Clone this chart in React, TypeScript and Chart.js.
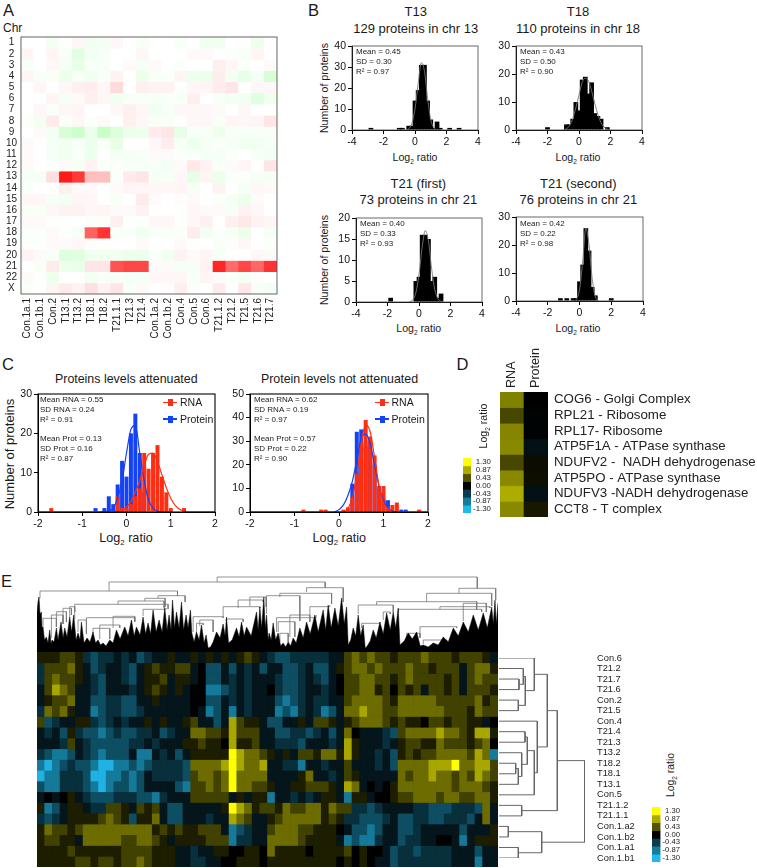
import React, { useEffect, useRef } from "react";
import { Chart, registerables } from "chart.js";

Chart.register(...registerables);
Chart.defaults.font.family = "'Liberation Sans', Arial, sans-serif";

const FONT = "'Liberation Sans', Arial, sans-serif";

/* ---------- Panel A ---------- */
const chrLabels = ["1","2","3","4","5","6","7","8","9","10","11","12","13","14","15","16","17","18","19","20","21","22","X"];
const sampleLabels = ["Con.1a.1","Con.1b.1","Con.2","T13.1","T13.2","T18.1","T18.2","T21.1.1","T21.3","T21.4","Con.1a.2","Con.1b.2","Con.4","Con.5","Con.6","T21.1.2","T21.2","T21.5","T21.6","T21.7"];
const chrRatios = [
  [0,0,-5,-1,3,-6,-5,3,0,-3,0,0,-3,0,-6,-6,0,0,-7,0],
  [4,0,4,-3,-12,-5,-3,0,0,3,0,0,0,2,2,0,-2,-3,4,0],
  [-3,0,3,-4,-10,-3,-3,0,2,-4,2,0,-2,0,0,6,3,-2,0,2],
  [4,-3,-3,-8,-3,-6,-3,5,0,-8,-3,-2,4,-7,-8,7,-5,-10,-4,-16],
  [0,3,0,3,6,7,3,14,0,6,5,5,-1,3,4,7,10,0,3,3],
  [0,0,4,-4,2,6,3,-6,-3,-3,-3,-2,-3,6,0,-3,-5,-6,-12,-6],
  [0,3,-2,3,4,0,0,3,6,3,-6,-4,3,3,3,2,0,3,0,0],
  [-2,-5,8,-2,3,-1,2,0,6,3,-3,-3,0,3,3,-3,4,3,4,10],
  [0,2,-5,-16,-20,-8,-22,-13,-8,-7,8,10,-10,-3,-3,-7,-3,-3,-3,-3],
  [2,0,-4,-6,-4,-7,-3,-10,0,0,3,7,-3,-7,-4,-2,-4,-6,-6,-4],
  [2,0,-4,-6,-2,-7,0,-4,-4,-3,2,2,-2,-2,-4,-4,-2,0,-4,-5],
  [2,0,-2,2,-4,5,-2,-2,-3,-3,-3,-5,2,9,5,-3,2,4,0,10],
  [-4,-4,13,90,78,25,25,-2,8,10,-4,-3,3,-10,4,-8,-2,-2,-4,-4],
  [-2,0,0,6,2,2,-1,2,4,3,3,3,4,-4,0,5,0,-4,3,2],
  [3,3,-4,-5,4,3,0,-3,0,8,2,0,1,2,0,-2,-4,-8,2,0],
  [-3,-3,3,5,5,3,4,2,2,5,0,0,-1,3,2,2,-4,5,3,0],
  [2,2,-1,-1,0,-2,-2,6,-1,-1,3,3,-1,3,6,0,6,9,5,4],
  [-2,-2,2,-1,-4,62,80,-3,-2,-6,-3,-3,-2,7,-5,-2,-4,-8,0,-4],
  [-1,-1,2,2,3,1,-1,0,0,2,0,0,2,-1,0,-3,1,3,0,-2],
  [5,2,-3,-13,-12,-6,-6,-6,-8,-8,-2,-6,5,2,4,-4,0,0,3,2],
  [0,-3,8,-7,-9,10,10,68,72,72,2,2,-4,-4,5,85,58,72,60,80],
  [2,-1,-7,0,0,-5,-3,-3,-4,-4,3,3,3,-3,4,2,-2,-4,1,0],
  [-3,-1,4,8,5,12,5,10,-3,2,0,1,6,-2,0,8,0,9,-3,-5],
];

/* ---------- Panel B ---------- */
const t13Bins = [[-2.8,1],[-1,1],[-0.8,1],[-0.4,2],[-0.2,2],[0,14],[0.2,19],[0.4,31],[0.6,31],[0.8,14],[1,5],[1.2,1],[1.4,4],[1.6,1],[2.2,1],[2.8,1]];
const t13Fit = [[-0.6,0],[-0.4,0.6],[-0.2,3],[0,10],[0.2,22],[0.4,32],[0.6,28],[0.8,15],[1,5],[1.2,1],[1.4,0]];
const t18Bins = [[-2,1],[-0.8,2],[-0.6,2],[-0.4,4],[-0.2,10],[0,7],[0.2,18],[0.4,19],[0.6,13],[0.8,17],[1,6],[1.2,5],[1.4,4],[1.8,1]];
const t18Fit = [[-1,0],[-0.8,0.4],[-0.6,1.6],[-0.4,4],[-0.2,8],[0,12.5],[0.2,17],[0.4,18.5],[0.6,17.5],[0.8,14],[1,9.5],[1.2,5.5],[1.4,2.6],[1.6,1],[1.8,0.3],[2,0]];
const t21aBins = [[-1.8,1],[-0.2,5],[0,6],[0.2,16],[0.4,16],[0.6,15],[0.8,5],[1,6],[1.2,1],[1.4,2]];
const t21aFit = [[-0.6,0],[-0.4,0.5],[-0.2,2.2],[0,6.5],[0.2,13],[0.4,17],[0.6,14.5],[0.8,8],[1,3],[1.2,0.8],[1.4,0.1]];
const t21bBins = [[-1.2,1],[-0.8,1],[-0.4,1],[-0.2,1],[0,7],[0.2,13],[0.4,26],[0.6,18],[0.8,5],[1,2],[2,1]];
const t21bFit = [[-0.2,0.5],[0,4],[0.2,14],[0.4,26],[0.6,20],[0.8,8],[1,1.5],[1.2,0.2]];

/* ---------- Panel C ---------- */
const attRnaBins = [[-1.7,1],[-0.2,4],[-0.1,1],[0,1],[0.1,2],[0.2,4],[0.3,6],[0.4,15],[0.5,11],[0.6,15],[0.7,17],[0.8,9],[0.9,5],[1,1],[1.3,1]];
const attProtBins = [[-0.7,1],[-0.5,1],[-0.4,4],[-0.3,2],[-0.2,7],[-0.1,13],[0,9],[0.1,20],[0.2,25],[0.3,15],[0.4,5]];
const attRnaFit = [[-2,0],[-0.3,0],[-0.2,0.1],[0,1.2],[0.1,2.7],[0.2,5],[0.3,8],[0.4,12],[0.5,14.7],[0.6,15],[0.7,12.8],[0.8,9.5],[0.9,6.2],[1,3.5],[1.1,1.7],[1.2,0.7],[1.3,0.2],[1.4,0],[2,0]];
const attProtFit = [[-0.6,0],[-0.4,0.2],[-0.3,1],[-0.2,3.5],[-0.1,8],[0,15],[0.1,21],[0.2,22],[0.3,15],[0.4,8],[0.5,3],[0.6,1],[0.7,0.2],[0.8,0],[1.05,0]];
const notRnaBins = [[-0.8,1],[-0.4,1],[-0.3,1],[0.1,1],[0.2,2],[0.3,6],[0.4,16],[0.5,30],[0.6,39],[0.7,32],[0.8,24],[0.9,11],[1,11],[1.1,2],[1.2,3],[1.3,4],[1.8,1]];
const notProtBins = [[0.3,12],[0.4,34],[0.5,35],[0.6,28],[0.7,30],[0.8,20],[0.9,10],[1,6],[1.1,5],[1.4,1],[1.5,1]];
const notRnaFit = [[-2,0],[0.1,0],[0.2,1.5],[0.3,6],[0.4,16],[0.5,29],[0.6,37],[0.7,34],[0.8,23],[0.9,11],[1,4],[1.1,1.2],[1.2,0.2],[1.3,0],[2,0]];
const notProtFit = [[-0.1,0],[0,1],[0.1,3],[0.2,7],[0.3,13],[0.4,22],[0.5,31],[0.6,33],[0.7,29],[0.8,20],[0.9,11],[1,5],[1.1,1.6],[1.2,0.4],[1.3,0]];

/* ---------- Panel D ---------- */
const proteinNames = ["COG6 - Golgi Complex","RPL21 - Ribosome","RPL17- Ribosome","ATP5F1A - ATPase synthase","NDUFV2 -  NADH dehydrogenase","ATP5PO - ATPase synthase","NDUFV3 -NADH dehydrogenase","CCT8 - T complex"];
const omicsLabels = ["RNA","Protein"];
const rnaRatios = [0.66,0.36,0.68,0.7,0.36,0.7,0.88,0.7];
const protRatios = [0,-0.02,-0.02,-0.12,0.06,0.07,-0.12,0.12];
const scaleSteps = [1.3,0.87,0.43,0,-0.43,-0.87,-1.3];
const scaleLabels = ["1.30","0.87","0.43","0.00","-0.43","-0.87","-1.30"];

/* ---------- Panel E ---------- */
const clusterLabels = ["Con.6","T21.2","T21.7","T21.6","Con.2","T21.5","Con.4","T21.4","T21.3","T13.2","T18.2","T18.1","T13.1","Con.5","T21.1.2","T21.1.1","Con.1.a2","Con.1.b2","Con.1.a1","Con.1.b1"];
const clusterRows = [
  "111221bcbbabacbaa1aa1a1a1a121" + "abccbbbbbaa2323221" + "222322212221a",
  "b22231acbaabca121122a0ccacaba" + "caaccbacca12332322" + "23221222a2331",
  "b23221abcaabca112a11a0ccababa" + "aabccbabca02233221" + "23222212a2322",
  "a2432aabcaaaba121a1a00ddcbaba" + "a0bccbaaba02233120" + "212a2212a2221",
  "a1223aaccbbccaa1aaaa00ccababa" + "aacdcbabbaa2333321" + "3333322222312",
  "b3231aadcbbccbaaaaaa0adcadaba" + "aadcdbabdca3343322" + "3333332221322",
  "2cbaa11bcbabaa1a1aa12aaca4211" + "accaa1a221a1233321" + "21102212211a0",
  "abac1bccdcbccbbacbaa332214222" + "aaccbbcbaca30aaabc" + "2333343321441",
  "aaab2abcccccbbabaaa1121104112" + "aabbbcaaaba41aaaba" + "1221132221230",
  "bcddcabcdcccaddabaca111115433" + "21a1a22133141aabac" + "121223333243d",
  "dedcbccdeeddcdcbbbbc333345433" + "4aabbdaabaa2aaabac" + "3333444533442",
  "eddbbbceeddcdcabbbbc233235333" + "3aaaa13aaba21aaaaa" + "3233433232432",
  "cddbbbcdedccdcaaaacd223235332" + "21aa112221a43a0a01" + "3333333233321",
  "a0a01abcccbbbccdbaaa22222a1a1" + "1daababa11ad11a001" + "2233323322331",
  "1dca11abb221a212accaaaaa15431" + "221322331322bbcbaa" + "aabbcccbbbc3a",
  "bcba11112321c113accaaabaa432a" + "a1233333121bbcccba" + "ccbbccbbbca3a",
  "132212333333333121211222adcba" + "a2333221110accdcaa" + "ccbaaaaacaaa1",
  "12211a33333223321a1111222dbba" + "a333321111adcddbaa" + "cbbaa00ada111",
  "111121111112222111aabaa110011" + "0311110111120100ac" + "bbcbbbbaaacaa",
  "111112212212232111aabbaa00111" + "011111111101010aac" + "bbbbbbbaaadaa",
];
const clusterColumns = Array.from({ length: 60 }, (_, i) => String(i + 1));
const clusterLevels: Record<string, number> = { "0": 0, "1": 0.15, "2": 0.33, "3": 0.55, "4": 0.85, "5": 1.3, a: -0.15, b: -0.33, c: -0.55, d: -0.85, e: -1.25 };

// proteins dendrogram silhouette: leaf position, branch height
const leafEnvelope = [[0,40],[1,50],[2,55],[3,38],[4.4,40],[5,24],[6,25],[7.5,12],[9.4,15],[11,9],[12.7,22],[14,8],[15,12],[17,10],[19.4,24],[21,12],[24,30],[26,14],[27.7,24],[30,15],[32.7,35],[34.5,20],[36.7,37],[39,12],[41,19],[43,12],[44.4,30],[47,9],[50,14],[53,10],[56,20],[58.5,9],[61,12],[63.5,7],[66,9],[69,6],[72.7,12],[76,9],[79.4,22],[83,13],[87.7,25],[91,16],[94.4,32],[97,16],[99.4,25],[103,17],[106,35],[108.5,18],[111,29],[113.5,18],[116,42],[119,20],[122,32],[125,20],[127.7,44],[130,22],[132,37],[134,22],[135.4,52],[137.5,24],[139.4,40],[142,24],[144.4,50],[146.5,22],[149,37],[151,24],[153.4,42],[154.7,19],[157,10],[159.4,20],[162,12],[164.4,27],[167,9],[169,17],[171,4],[173.4,5],[176,10],[179.4,20],[183,14],[186,28],[188,16],[189.4,35],[191.4,9],[195,12],[199.4,24],[202,15],[204.4,30],[207,16],[209.4,25],[214,16],[219.4,40],[221,22],[222.7,45],[224.5,24],[226.7,55],[228,24],[229.4,37],[231,12],[232,19],[234,12],[236,29],[238.5,12],[241,19],[243.5,6],[246,9],[248.5,5],[251,10],[253.5,6],[256,14],[259,9],[262.7,24],[266,14],[269.4,30],[273,18],[277.7,37],[281,20],[286,42],[288.5,22],[291,47],[294,24],[297.7,44],[301,26],[304.4,54],[307,28],[309.4,45],[311,7],[313.5,12],[316,24],[318.5,16],[321,37],[323.5,16],[326,27],[328,4],[329.4,5],[333,11],[336,22],[339,14],[342.7,30],[346,18],[349.4,39],[353,22],[356,40],[358.5,24],[361,44],[362.7,7],[367,11],[371,19],[375,13],[379.4,20],[383,6],[386,7],[391,5],[396,9],[401,7],[406,15],[411,10],[416,24],[421,16],[426,30],[431,20],[436,37],[441,22],[446,39],[450,24],[454.4,45],[456,28],[457.7,52],[459,28],[460.7,49]];
// [left leaf, right leaf, join height, left child height, right child height]
const proteinLinks = [[180,440,75,70,63.7],[72,288,70,61,64.3],[3,140.4,61,53.7,56],[121,148,56.3,53.7,50],[107.7,128,53.7,51,45],[81,127,51,47.7,44],[37.7,131,47.7,33,43],[32.7,37.7,45.3,35,40],[26,34.4,43.7,28,37],[19.4,29.4,40.3,25,30],[14.4,26,37,14,28],[6,19.4,33.7,24,25],[49.4,97.7,34.3,20,30],[41,49.4,32,20,18],[62.7,82.7,27,13,24],[56,72.7,23.7,19,13],[76,97.7,35.7,24,31],[106,129,42.7,36,44],[156,186,35.3,20,34],[162.7,176,32,26,20],[159.4,166,28.7,20,27],[186,222.7,45.3,35,44],[201,226,52,44,50],[212.7,229,55,46,45],[189,206,33,31,30],[269.4,306,64.3,60,50],[242.7,294.4,58.7,55,48],[229.4,262.7,56.3,38,31],[272.7,292.7,45.3,36,47],[239.4,279,34.3,20,37],[252.7,272.7,37,15,30],[241,257.7,30.3,20,15],[242.7,251,18.7,10,10],[421.7,458.4,63.7,58.7,52],[389.4,454.4,58.7,50,46],[339.4,439.4,50.3,47,42],[321,356,47,38,40],[361,444.4,42.7,40,40],[402.7,452.7,45.3,43,44],[426,449,48.7,31,40],[382.7,419.4,25.3,15,24],[324.4,342.7,28.7,24,30],[346,353,40,32,38],[369.4,382.7,18.7,14,14],[386,409.4,12,8,10]];
// [upper row, lower row, join distance, upper child distance, lower child distance]
const sampleLinks = [[2,3,20,0,0],[1,2.5,24.3,0,20],[4,5,19.3,0,0],[1.75,4.5,26.3,24.3,19.3],[0,3.1,35.3,0,26.3],[7,8,26,0,0],[10,11,16.7,0,0],[10.5,12,19.3,16.7,0],[9,11.25,22.7,0,19.3],[7.5,10.1,28.3,26,22.7],[8.8,13,35.3,28.3,0],[6,10.9,38.3,0,35.3],[1.55,8.45,48.3,35.3,38.3],[14,15,22.7,0,0],[5,14.5,58.3,48.3,22.7],[16,17,9.3,0,0],[18,19,19.3,0,0],[16.5,18.5,42.7,9.3,19.3],[9.75,17.5,85.7,58.3,42.7]];

/* ---------- colours ---------- */
const RED = "#ff2d12";
const BLUE = "#1442f5";
const chrColor = (v: number) => {
  const t = Math.min(1, Math.abs(v) / 100);
  const o = Math.round(255 * (1 - t));
  return v >= 0 ? `rgb(255,${o},${o})` : `rgb(${o},255,${o})`;
};
const logColor = (v: number) => {
  const t = Math.min(1, Math.abs(v) / 1.3);
  return v >= 0
    ? `rgb(${Math.round(255 * t)},${Math.round(255 * t)},0)`
    : `rgb(${Math.round(32 * t)},${Math.round(185 * t)},${Math.round(235 * t)})`;
};

/* ---------- chart builders ---------- */
const pts = (a: number[][]) => a.map(([x, y]) => ({ x, y }));

type Rect = { l: number; t: number; r: number; b: number };
type Margin = { left: number; top: number; right: number; bottom: number };

function sized(cfg: any, m: Margin, axisX: string | null, axisY: string | null) {
  const padding: any = { left: m.left, right: m.right, top: m.top, bottom: m.bottom };
  const s = cfg.options.scales;
  if (axisX) {
    s.x.position = axisX;
    padding[axisX] = 0;
    s.x.afterFit = (a: any) => { a.height = m[axisX as "top" | "bottom"]; a.paddingLeft = 0; a.paddingRight = 0; };
  }
  if (axisY) {
    s.y.position = axisY;
    padding[axisY] = 0;
    s.y.afterFit = (a: any) => { a.width = m[axisY as "left" | "right"]; a.paddingTop = 0; a.paddingBottom = 0; };
  }
  cfg.options.layout = { padding };
  cfg.options.animation = false;
  cfg.options.responsive = false;
  cfg.options.maintainAspectRatio = false;
  cfg.options.plugins = { legend: { display: false }, tooltip: { enabled: false } };
  return cfg;
}

const framePlugin = (color: string, width: number) => ({
  id: "frame",
  afterDatasetsDraw(c: any) {
    const { left, top, right, bottom } = c.chartArea;
    const g = c.ctx;
    g.save();
    g.strokeStyle = color;
    g.lineWidth = width;
    g.strokeRect(left, top, right - left, bottom - top);
    g.restore();
  },
});

const blackBase = {
  id: "blackBase",
  beforeDatasetsDraw(c: any) {
    const { left, top, right, bottom } = c.chartArea;
    c.ctx.save();
    c.ctx.fillStyle = "#000";
    c.ctx.fillRect(left, top, right - left, bottom - top);
    c.ctx.restore();
  },
};

function heatConfig(opts: {
  columns: string[];
  rows: string[];
  colors: string[][];
  showX?: boolean;
  showY?: boolean;
  xFont?: number;
  yFont?: number;
  xRotate?: number;
  xPad?: number;
  xShift?: number;
  yPad?: number;
  yCross?: string;
  plugins?: any[];
}) {
  const { columns, rows, colors } = opts;
  return {
    type: "bar",
    data: {
      labels: columns,
      datasets: rows.map((r, i) => ({
        label: r,
        data: columns.map(() => 1),
        backgroundColor: colors[i],
        categoryPercentage: 1,
        barPercentage: 1,
        borderWidth: 0,
      })),
    },
    plugins: opts.plugins || [],
    options: {
      scales: {
        x: {
          stacked: true,
          display: !!opts.showX,
          grid: { display: false, drawTicks: false },
          border: { display: false },
          ticks: {
            autoSkip: false,
            maxRotation: opts.xRotate ?? 0,
            minRotation: opts.xRotate ?? 0,
            padding: opts.xPad ?? 2,
            labelOffset: opts.xShift ?? 0,
            color: "#222",
            font: { size: opts.xFont ?? 10 },
          },
        },
        y: {
          stacked: true,
          reverse: true,
          min: 0,
          max: rows.length,
          display: !!opts.showY,
          grid: { display: false, drawTicks: false },
          border: { display: false },
          afterBuildTicks: (a: any) => { a.ticks = rows.map((_, i) => ({ value: i + 0.5 })); },
          ticks: {
            autoSkip: false,
            padding: opts.yPad ?? 2,
            crossAlign: opts.yCross ?? "near",
            color: "#222",
            font: { size: opts.yFont ?? 10 },
            callback: (_: any, i: number) => rows[i],
          },
        },
      },
    },
  };
}

function axis(min: number, max: number, step: number, extra: any = {}) {
  return {
    type: "linear",
    min,
    max,
    offset: false,
    ticks: { stepSize: step, color: "#111", font: { size: 10.5 }, padding: 2, autoSkip: false, maxRotation: 0 },
    grid: { drawOnChartArea: false, drawTicks: true, tickLength: 4, color: "#000", offset: false },
    border: { color: "#000", width: 1 },
    ...extra,
  };
}

function histConfig(bins: number[][], fit: number[][], yMax: number, yStep: number) {
  return {
    type: "bar",
    data: {
      datasets: [
        { type: "line", data: pts(fit), borderColor: "#777", borderWidth: 0.9, pointRadius: 0, cubicInterpolationMode: "monotone", order: 0 },
        { type: "bar", data: pts(bins), backgroundColor: "#000", barThickness: 4.7, inflateAmount: 0, order: 1 },
      ],
    },
    plugins: [framePlugin("#444", 0.8)],
    options: { scales: { x: axis(-4, 4, 2), y: axis(0, yMax, yStep) } },
  };
}

function compareConfig(rna: number[][], prot: number[][], rnaFit: number[][], protFit: number[][], yMax: number) {
  return {
    type: "bar",
    data: {
      datasets: [
        { type: "line", label: "RNA", data: pts(rnaFit), borderColor: RED, borderWidth: 1.2, pointRadius: 0, cubicInterpolationMode: "monotone", order: 0 },
        { type: "line", label: "Protein", data: pts(protFit), borderColor: BLUE, borderWidth: 1.2, pointRadius: 0, cubicInterpolationMode: "monotone", order: 1 },
        { type: "bar", label: "RNA", data: pts(rna), backgroundColor: RED, barThickness: 4, inflateAmount: 0, grouped: false, order: 2 },
        { type: "bar", label: "Protein", data: pts(prot), backgroundColor: BLUE, barThickness: 4, inflateAmount: 0, grouped: false, order: 3 },
      ],
    },
    plugins: [framePlugin("#000", 1.1)],
    options: { scales: { x: axis(-2, 2, 1), y: axis(0, yMax, 10) } },
  };
}

const hiddenAxis = (min: number, max: number, reverse = false) => ({
  type: "linear", min, max, reverse, display: false, grid: { display: false },
});

function proteinTreeConfig() {
  return {
    type: "scatter",
    data: {
      datasets: [
        { data: pts(leafEnvelope), showLine: true, fill: "origin", backgroundColor: "#000", borderColor: "#000", borderWidth: 0.5, pointRadius: 0, order: 0 },
        ...proteinLinks.map(([a, b, h, h1, h2]) => ({
          data: [{ x: a, y: h1 }, { x: a, y: h }, { x: b, y: h }, { x: b, y: h2 }],
          showLine: true,
          borderColor: "#777",
          borderWidth: 0.8,
          pointRadius: 0,
          order: 1,
        })),
      ],
    },
    options: { scales: { x: hiddenAxis(0, 460.7), y: hiddenAxis(0, 77) } },
  };
}

function sampleTreeConfig() {
  return {
    type: "scatter",
    data: {
      datasets: sampleLinks.map(([a, b, d, d1, d2]) => ({
        data: [{ x: d1, y: a }, { x: d, y: a }, { x: d, y: b }, { x: d2, y: b }],
        showLine: true,
        borderColor: "#666",
        borderWidth: 1,
        pointRadius: 0,
      })),
    },
    options: {
      scales: {
        x: hiddenAxis(0, 86),
        y: {
          type: "linear",
          min: 0,
          max: 19,
          reverse: true,
          grid: { display: false, drawTicks: false },
          border: { display: false },
          afterBuildTicks: (a: any) => { a.ticks = clusterLabels.map((_, i) => ({ value: i })); },
          ticks: {
            autoSkip: false,
            padding: 12,
            color: "#222",
            font: { size: 9.3 },
            callback: (_: any, i: number) => clusterLabels[i],
          },
        },
      },
    },
  };
}

/* ---------- React pieces ---------- */
function Plot({ rect, margin, axisX, axisY, config }: { rect: Rect; margin: Margin; axisX?: string; axisY?: string; config: () => any }) {
  const ref = useRef<HTMLCanvasElement | null>(null);
  useEffect(() => {
    const chart = new Chart(ref.current as any, sized(config(), margin, axisX || null, axisY || null));
    return () => chart.destroy();
  }, []);
  const w = Math.round(rect.r - rect.l + margin.left + margin.right);
  const h = Math.round(rect.b - rect.t + margin.top + margin.bottom);
  return (
    <canvas
      ref={ref}
      width={w}
      height={h}
      style={{ position: "absolute", left: rect.l - margin.left, top: rect.t - margin.top, width: w, height: h, display: "block" }}
    />
  );
}

function Txt({ x, y, size, rot, left, color, children }: any) {
  const transform = rot
    ? "translate(-50%,-50%) rotate(-90deg)"
    : left
    ? "translateY(-50%)"
    : "translate(-50%,-50%)";
  return (
    <div style={{ position: "absolute", left: x, top: y, fontSize: size, lineHeight: 1, whiteSpace: "pre", transform, fontFamily: FONT, color: color || "#1a1a1a" }}>
      {children}
    </div>
  );
}

const LogRatio = ({ x, y, size, rot }: any) => (
  <Txt x={x} y={y} size={size} rot={rot}>
    Log<sub style={{ fontSize: "0.62em", lineHeight: 0 }}>2</sub> ratio
  </Txt>
);

const Stats = ({ x, ys, lines }: { x: number; ys: number[]; lines: string[] }) => (
  <>
    {lines.map((l, i) => (
      <Txt key={i} x={x} y={ys[i]} size={8} left>{l}</Txt>
    ))}
  </>
);

const LegendKey = ({ x0, x1, xText, y, color, label }: any) => (
  <>
    <div style={{ position: "absolute", left: x0, top: y - 0.6, width: x1 - x0, height: 1.2, background: color }} />
    <div style={{ position: "absolute", left: (x0 + x1) / 2 - 2.5, top: y - 3.5, width: 5, height: 7, background: color }} />
    <Txt x={xText} y={y} size={10.5} left>{label}</Txt>
  </>
);

const m = (left: number, top: number, right: number, bottom: number): Margin => ({ left, top, right, bottom });

export default function App() {
  return (
    <div style={{ position: "absolute", left: 0, top: 0, width: 757, height: 868, overflow: "hidden", background: "#fff" }}>
      {/* A */}
      <Txt x={3} y={10} size={16.5} left>A</Txt>
      <Txt x={3} y={28} size={12} left>Chr</Txt>
      <Plot
        rect={{ l: 21, t: 37, r: 277, b: 294 }}
        margin={m(21, 6, 4, 50)}
        axisX="bottom"
        axisY="left"
        config={() =>
          heatConfig({
            columns: sampleLabels,
            rows: chrLabels,
            colors: chrRatios.map((r) => r.map(chrColor)),
            showX: true,
            showY: true,
            xRotate: 90,
            xPad: 4,
            yPad: 4,
            yCross: "center",
            plugins: [framePlugin("#555", 0.9)],
          })
        }
      />

      {/* B */}
      <Txt x={308} y={9.5} size={16.5} left>B</Txt>
      <Txt x={415.7} y={11} size={13}>T13</Txt>
      <Txt x={415.7} y={27.7} size={13}>129 proteins in chr 13</Txt>
      <Txt x={578} y={11} size={13}>T18</Txt>
      <Txt x={578} y={27.7} size={13}>110 proteins in chr 18</Txt>
      <Txt x={418.3} y={183.3} size={13}>T21 (first)</Txt>
      <Txt x={418.3} y={199.3} size={13}>73 proteins in chr 21</Txt>
      <Txt x={578.3} y={183.3} size={13}>T21 (second)</Txt>
      <Txt x={578.3} y={199.3} size={13}>76 proteins in chr 21</Txt>
      <Plot rect={{ l: 352, t: 46, r: 478, b: 130 }} margin={m(20, 8, 8, 18)} axisX="bottom" axisY="left" config={() => histConfig(t13Bins, t13Fit, 40, 10)} />
      <Plot rect={{ l: 516, t: 46, r: 642, b: 130 }} margin={m(20, 8, 8, 18)} axisX="bottom" axisY="left" config={() => histConfig(t18Bins, t18Fit, 30, 10)} />
      <Plot rect={{ l: 356, t: 218, r: 482, b: 302 }} margin={m(20, 8, 8, 18)} axisX="bottom" axisY="left" config={() => histConfig(t21aBins, t21aFit, 20, 5)} />
      <Plot rect={{ l: 516, t: 217, r: 643, b: 301 }} margin={m(20, 8, 8, 18)} axisX="bottom" axisY="left" config={() => histConfig(t21bBins, t21bFit, 30, 10)} />
      <Txt x={324} y={87.7} size={10.6} rot>Number of proteins</Txt>
      <Txt x={324} y={260} size={10.6} rot>Number of proteins</Txt>
      <LogRatio x={415} y={157} size={10.6} />
      <LogRatio x={578} y={157} size={10.6} />
      <LogRatio x={418.7} y={328} size={10.6} />
      <LogRatio x={578} y={328} size={10.6} />
      <Stats x={356} ys={[52.3, 62.3, 72.3]} lines={["Mean = 0.45", "SD = 0.30", "R² = 0.97"]} />
      <Stats x={520} ys={[52.3, 62.3, 72.3]} lines={["Mean = 0.43", "SD = 0.50", "R² = 0.90"]} />
      <Stats x={360} ys={[224.3, 234.3, 244.3]} lines={["Mean = 0.40", "SD = 0.33", "R² = 0.93"]} />
      <Stats x={520} ys={[224, 234, 244]} lines={["Mean = 0.42", "SD = 0.22", "R² = 0.98"]} />

      {/* C */}
      <Txt x={2} y={364} size={16.5} left>C</Txt>
      <Txt x={126.3} y={379.3} size={12.4}>Proteins levels attenuated</Txt>
      <Txt x={339.5} y={379.3} size={12.4}>Protein levels not attenuated</Txt>
      <Plot rect={{ l: 38, t: 394, r: 215, b: 512 }} margin={m(20, 8, 8, 18)} axisX="bottom" axisY="left" config={() => compareConfig(attRnaBins, attProtBins, attRnaFit, attProtFit, 30)} />
      <Plot rect={{ l: 250, t: 394, r: 428, b: 512 }} margin={m(20, 8, 8, 18)} axisX="bottom" axisY="left" config={() => compareConfig(notRnaBins, notProtBins, notRnaFit, notProtFit, 50)} />
      <Txt x={8.5} y={454} size={13} rot>Number of proteins</Txt>
      <LogRatio x={126} y={538} size={12.6} />
      <LogRatio x={339.3} y={538} size={12.6} />
      <Stats x={40} ys={[400.3, 410, 419.7, 439.3, 449, 458.7]} lines={["Mean RNA = 0.55", "SD RNA = 0.24", "R² = 0.91", "Mean Prot = 0.13", "SD Prot = 0.16", "R² = 0.87"]} />
      <Stats x={254} ys={[400.3, 410, 419.7, 439.3, 449, 458.7]} lines={["Mean RNA = 0.62", "SD RNA = 0.19", "R² = 0.97", "Mean Prot = 0.57", "SD Prot = 0.22", "R² = 0.90"]} />
      <LegendKey x0={163} x1={177} xText={180} y={402.3} color={RED} label="RNA" />
      <LegendKey x0={163} x1={177} xText={180} y={419} color={BLUE} label="Protein" />
      <LegendKey x0={375} x1={389} xText={391.5} y={402.3} color={RED} label="RNA" />
      <LegendKey x0={375} x1={389} xText={391.5} y={419} color={BLUE} label="Protein" />

      {/* D */}
      <Txt x={456.5} y={364} size={16.5} left>D</Txt>
      <Plot
        rect={{ l: 500, t: 392, r: 548, b: 517 }}
        margin={m(0, 45, 209, 0)}
        axisX="top"
        axisY="right"
        config={() =>
          heatConfig({
            columns: omicsLabels,
            rows: proteinNames,
            colors: proteinNames.map((_, i) => [logColor(rnaRatios[i]), logColor(protRatios[i])]),
            showX: true,
            showY: true,
            xRotate: 90,
            xFont: 12.6,
            xPad: 4,
            xShift: 15,
            yFont: 13.3,
            yPad: 6,
            plugins: [blackBase],
          })
        }
      />
      <Plot
        rect={{ l: 463, t: 458, r: 471, b: 513 }}
        margin={m(0, 5, 20, 5)}
        axisY="right"
        config={() =>
          heatConfig({
            columns: ["scale"],
            rows: scaleLabels,
            colors: scaleSteps.map((v) => [logColor(v)]),
            showY: true,
            yFont: 7.9,
            yCross: "far",
            plugins: [],
          })
        }
      />
      <LogRatio x={482.7} y={426} size={10.6} rot />

      {/* E */}
      <Txt x={1} y={581} size={16.5} left>E</Txt>
      <Plot rect={{ l: 37, t: 575, r: 498, b: 652 }} margin={m(0, 0, 0, 0)} config={proteinTreeConfig} />
      <Plot
        rect={{ l: 37, t: 652, r: 498, b: 867 }}
        margin={m(0, 0, 0, 0)}
        config={() =>
          heatConfig({
            columns: clusterColumns,
            rows: clusterLabels,
            colors: clusterRows.map((r) => r.split("").map((c) => logColor(clusterLevels[c] ?? 0))),
            plugins: [blackBase],
          })
        }
      />
      <Plot rect={{ l: 499, t: 658, r: 585, b: 858 }} margin={m(0, 6, 60, 6)} axisY="right" config={sampleTreeConfig} />
      <Plot
        rect={{ l: 652, t: 807, r: 660, b: 862 }}
        margin={m(0, 5, 19.5, 5)}
        axisY="right"
        config={() =>
          heatConfig({
            columns: ["scale"],
            rows: scaleLabels,
            colors: scaleSteps.map((v) => [logColor(v)]),
            showY: true,
            yFont: 7.7,
            yCross: "far",
            plugins: [],
          })
        }
      />
      <LogRatio x={671} y={774.7} size={10.4} rot />
    </div>
  );
}
